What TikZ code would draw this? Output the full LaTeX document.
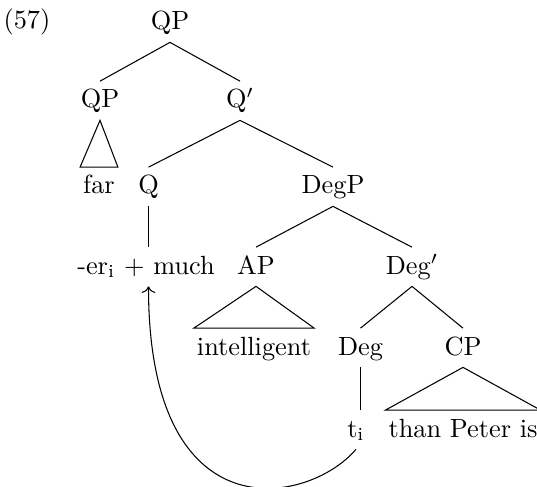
\documentclass[tikz,border=0pt]{standalone}
\usetikzlibrary{arrows.meta}

\begin{document}
\begin{tikzpicture}[x=0.38pt,y=-0.38pt]
				\useasboundingbox (0,0) rectangle (537,487);
				\node[anchor=base] (ex) at (27,29) {(57)};
				\begin{scope}[every node/.style={anchor=base,inner xsep=1pt,inner ysep=3pt,text height=7pt,text depth=1.5pt}]
					\node (QP) at (170,30) {QP};
					\node (QPa) at (100,108) {QP};
					\node (Qbar) at (240,108) {Q$'$};
					\node (far) at (99,194) {far};
					\node (Q) at (148.5,194) {Q};
					\node (DegP) at (333,194) {DegP};
					\node (er) at (146,274) {-er\textsubscript{i} + much};
					\node (AP) at (256,274) {AP};
					\node (Degbar) at (412,274) {Deg$'$};
					\node (intel) at (254,355) {intelligent};
					\node (Deg) at (360.5,355) {Deg};
					\node (CP) at (463,355) {CP};
					\node (ti) at (356,437) {t\textsubscript{i}};
					\node (than) at (463,437) {than Peter is};
				\end{scope}
				\draw (QP.south) -- (QPa.north);
				\draw (QP.south) -- (Qbar.north);
				\draw (QPa.south) -- (far.north west) -- (far.north east) -- cycle;
				\draw (Qbar.south) -- (Q.north);
				\draw (Qbar.south) -- (DegP.north);
				\draw (Q.south) -- (Q |- er.north);
				\draw (DegP.south) -- (AP.north);
				\draw (DegP.south) -- (Degbar.north);
				\draw (AP.south) -- (intel.north west) -- (intel.north east) -- cycle;
				\draw (Degbar.south) -- (Deg.north);
				\draw (Degbar.south) -- (CP.north);
				\draw (Deg.south) -- (Deg |- ti.north);
				\draw (CP.south) -- (than.north west) -- (than.north east) -- cycle;
				\draw [->] (ti.south) .. controls +(-48,56) and +(0,250) .. (Q |- er.south);
			\end{tikzpicture}
\end{document}
